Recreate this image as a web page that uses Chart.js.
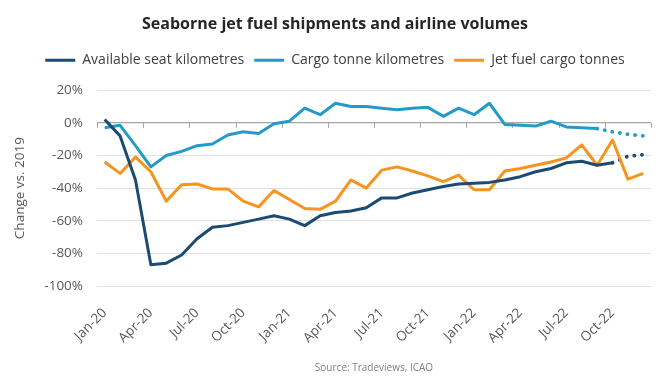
<!DOCTYPE html>
<html><head><meta charset="utf-8">
<script src="https://cdn.jsdelivr.net/npm/chart.js@4.4.1/dist/chart.umd.min.js"></script>
<style>html,body{margin:0;padding:0;background:#fff;}#wrap{width:670px;height:380px;position:relative;}</style>
</head><body><div id="wrap"><canvas id="c"></canvas></div>
<script>
const months = ['Jan-20','Feb-20','Mar-20','Apr-20','May-20','Jun-20','Jul-20','Aug-20','Sep-20','Oct-20','Nov-20','Dec-20',
  'Jan-21','Feb-21','Mar-21','Apr-21','May-21','Jun-21','Jul-21','Aug-21','Sep-21','Oct-21','Nov-21','Dec-21',
  'Jan-22','Feb-22','Mar-22','Apr-22','May-22','Jun-22','Jul-22','Aug-22','Sep-22','Oct-22','Nov-22','Dec-22'];
const shownTickLabels = ['Jan-20','Apr-20','Jul-20','Oct-20','Jan-21','Apr-21','Jul-21','Oct-21','Jan-22','Apr-22','Jul-22','Oct-22'];
const yTicks = [20, 0, -20, -40, -60, -80, -100];

const availableSeatKm = [2,-8,-35,-87,-86,-81,-71,-64,-63,-61,-59,-57,
  -59,-63,-57,-55,-54,-52,-46,-46,-43,-41,-39,-37.5,
  -37,-36.5,-35,-33,-30,-28,-24.5,-23.5,-26,-24.5,null,null];
const availableSeatKmForecast = [null,null,null,null,null,null,null,null,null,null,null,null,
  null,null,null,null,null,null,null,null,null,null,null,null,
  null,null,null,null,null,null,null,null,null,-24.5,-20.5,-19.5];
const cargoTonneKm = [-3,-1.5,-14,-27,-20,-17.5,-14,-13,-7.5,-5.5,-6.5,-0.5,
  1,9,5,12,10,10,9,8,9,9.5,4,9,
  5,12,-1,-1.5,-2,1,-2.5,-3,-3.5,null,null,null];
const cargoTonneKmForecast = [null,null,null,null,null,null,null,null,null,null,null,null,
  null,null,null,null,null,null,null,null,null,null,null,null,
  null,null,null,null,null,null,null,null,-3.5,-5.5,-7,-8];
const jetFuelCargoTonnes = [-24,-31,-21,-30,-48,-38,-37.5,-40.5,-40.5,-48,-51.5,-41.5,
  -47,-52.5,-53,-48,-35,-40,-29,-27,-29.5,-32.5,-36,-32,
  -41,-41,-29.5,-28,-26,-24,-21.5,-13.5,-26,-10.5,-34.5,-31];

const DARK = '#1b4b73', LIGHT = '#239bc9', ORANGE = '#f7941e';
const FONT = "'Open Sans', 'Noto Sans', sans-serif";

const legendSpace = {
  id: 'legendSpace',
  beforeInit(chart) {
    const fit = chart.legend.fit;
    chart.legend.fit = function () { fit.bind(chart.legend)(); this.height += 13; };
  }
};
const zeroTicks = {
  id: 'zeroTicks',
  beforeDatasetsDraw(chart) {
    const x = chart.scales.x, y = chart.scales.y, ctx = chart.ctx;
    const y0 = y.getPixelForValue(0);
    const half = (x.getPixelForValue(1) - x.getPixelForValue(0)) / 2;
    ctx.save();
    ctx.strokeStyle = '#a6a6a6';
    ctx.lineWidth = 1;
    for (let i = 0; i <= months.length; i += 3) {
      const px = Math.round(x.getPixelForValue(i) - half) + 0.5;
      ctx.beginPath(); ctx.moveTo(px, y0); ctx.lineTo(px, y0 + 5); ctx.stroke();
    }
    ctx.restore();
  }
};

new Chart(document.getElementById('c'), {
  type: 'line',
  data: {
    labels: months,
    datasets: [
      { label: 'Available seat kilometres', data: availableSeatKm, borderColor: DARK, backgroundColor: DARK },
      { label: 'Cargo tonne kilometres', data: cargoTonneKm, borderColor: LIGHT, backgroundColor: LIGHT },
      { label: 'Jet fuel cargo tonnes', data: jetFuelCargoTonnes, borderColor: ORANGE, backgroundColor: ORANGE },
      { label: 'fcA', data: availableSeatKmForecast, borderColor: DARK, borderDash: [0.1, 7.6], borderCapStyle: 'round', borderWidth: 3.8 },
      { label: 'fcC', data: cargoTonneKmForecast, borderColor: LIGHT, borderDash: [0.1, 7.6], borderCapStyle: 'round', borderWidth: 3.8 }
    ]
  },
  options: {
    responsive: true,
    maintainAspectRatio: false,
    animation: false,
    devicePixelRatio: 1,
    layout: { padding: { left: 0, right: 0, top: 3, bottom: 6 } },
    elements: {
      line: { borderWidth: 3, tension: 0, borderJoinStyle: 'round', fill: false },
      point: { radius: 0, hoverRadius: 0 }
    },
    plugins: {
      tooltip: { enabled: false },
      title: {
        display: true, text: 'Seaborne jet fuel shipments and airline volumes',
        color: '#262626', font: { family: FONT, size: 16, weight: 'bold' },
        padding: { top: 12, bottom: 9 }
      },
      subtitle: {
        display: true, position: 'bottom', fullSize: false, text: 'Source: Tradeviews, ICAO',
        color: '#7f7f7f', font: { family: FONT, size: 10 },
        padding: { top: 10, bottom: 0 }
      },
      legend: {
        position: 'top',
        labels: {
          color: '#404040', font: { family: FONT, size: 14 },
          boxWidth: 30, boxHeight: 3, padding: 10,
          generateLabels(chart) {
            return chart.data.datasets.slice(0, 3).map((ds, i) => ({
              text: ds.label, fillStyle: ds.borderColor, strokeStyle: ds.borderColor,
              lineWidth: 0, hidden: false, datasetIndex: i, fontColor: '#404040'
            }));
          }
        }
      }
    },
    scales: {
      x: {
        type: 'category',
        offset: true,
        grid: { display: false },
        border: { display: false },
        afterFit(s) { s.height = 66; },
        ticks: {
          autoSkip: false, minRotation: 45, maxRotation: 45, padding: 11,
          color: '#595959', font: { family: FONT, size: 13.5 },
          callback(v, i) { const m = months[i]; return shownTickLabels.includes(m) ? m : ''; }
        }
      },
      y: {
        min: -100, max: 20,
        afterFit(s) { s.width = 97; },
        afterBuildTicks(s) { s.ticks = yTicks.map(v => ({ value: v })); },
        border: { display: false },
        grid: {
          drawTicks: false,
          color: c => c.tick && c.tick.value === 0 ? '#a6a6a6' : '#e0e0e0',
          lineWidth: c => c.tick && c.tick.value === 0 ? 1.2 : 1
        },
        ticks: {
          padding: 14, color: '#595959', font: { family: FONT, size: 13.5 },
          callback: v => v + '%'
        },
        title: {
          display: true, text: 'Change vs. 2019', color: '#595959',
          font: { family: FONT, size: 13.5 }, padding: { top: 12, bottom: 0 }
        }
      },
      rightSpace: {
        type: 'linear', position: 'right', display: true,
        grid: { display: false, drawTicks: false }, border: { display: false },
        ticks: { display: false },
        afterFit(s) { s.width = 19; }
      }
    }
  },
  plugins: [legendSpace, zeroTicks]
});
</script></body></html>
